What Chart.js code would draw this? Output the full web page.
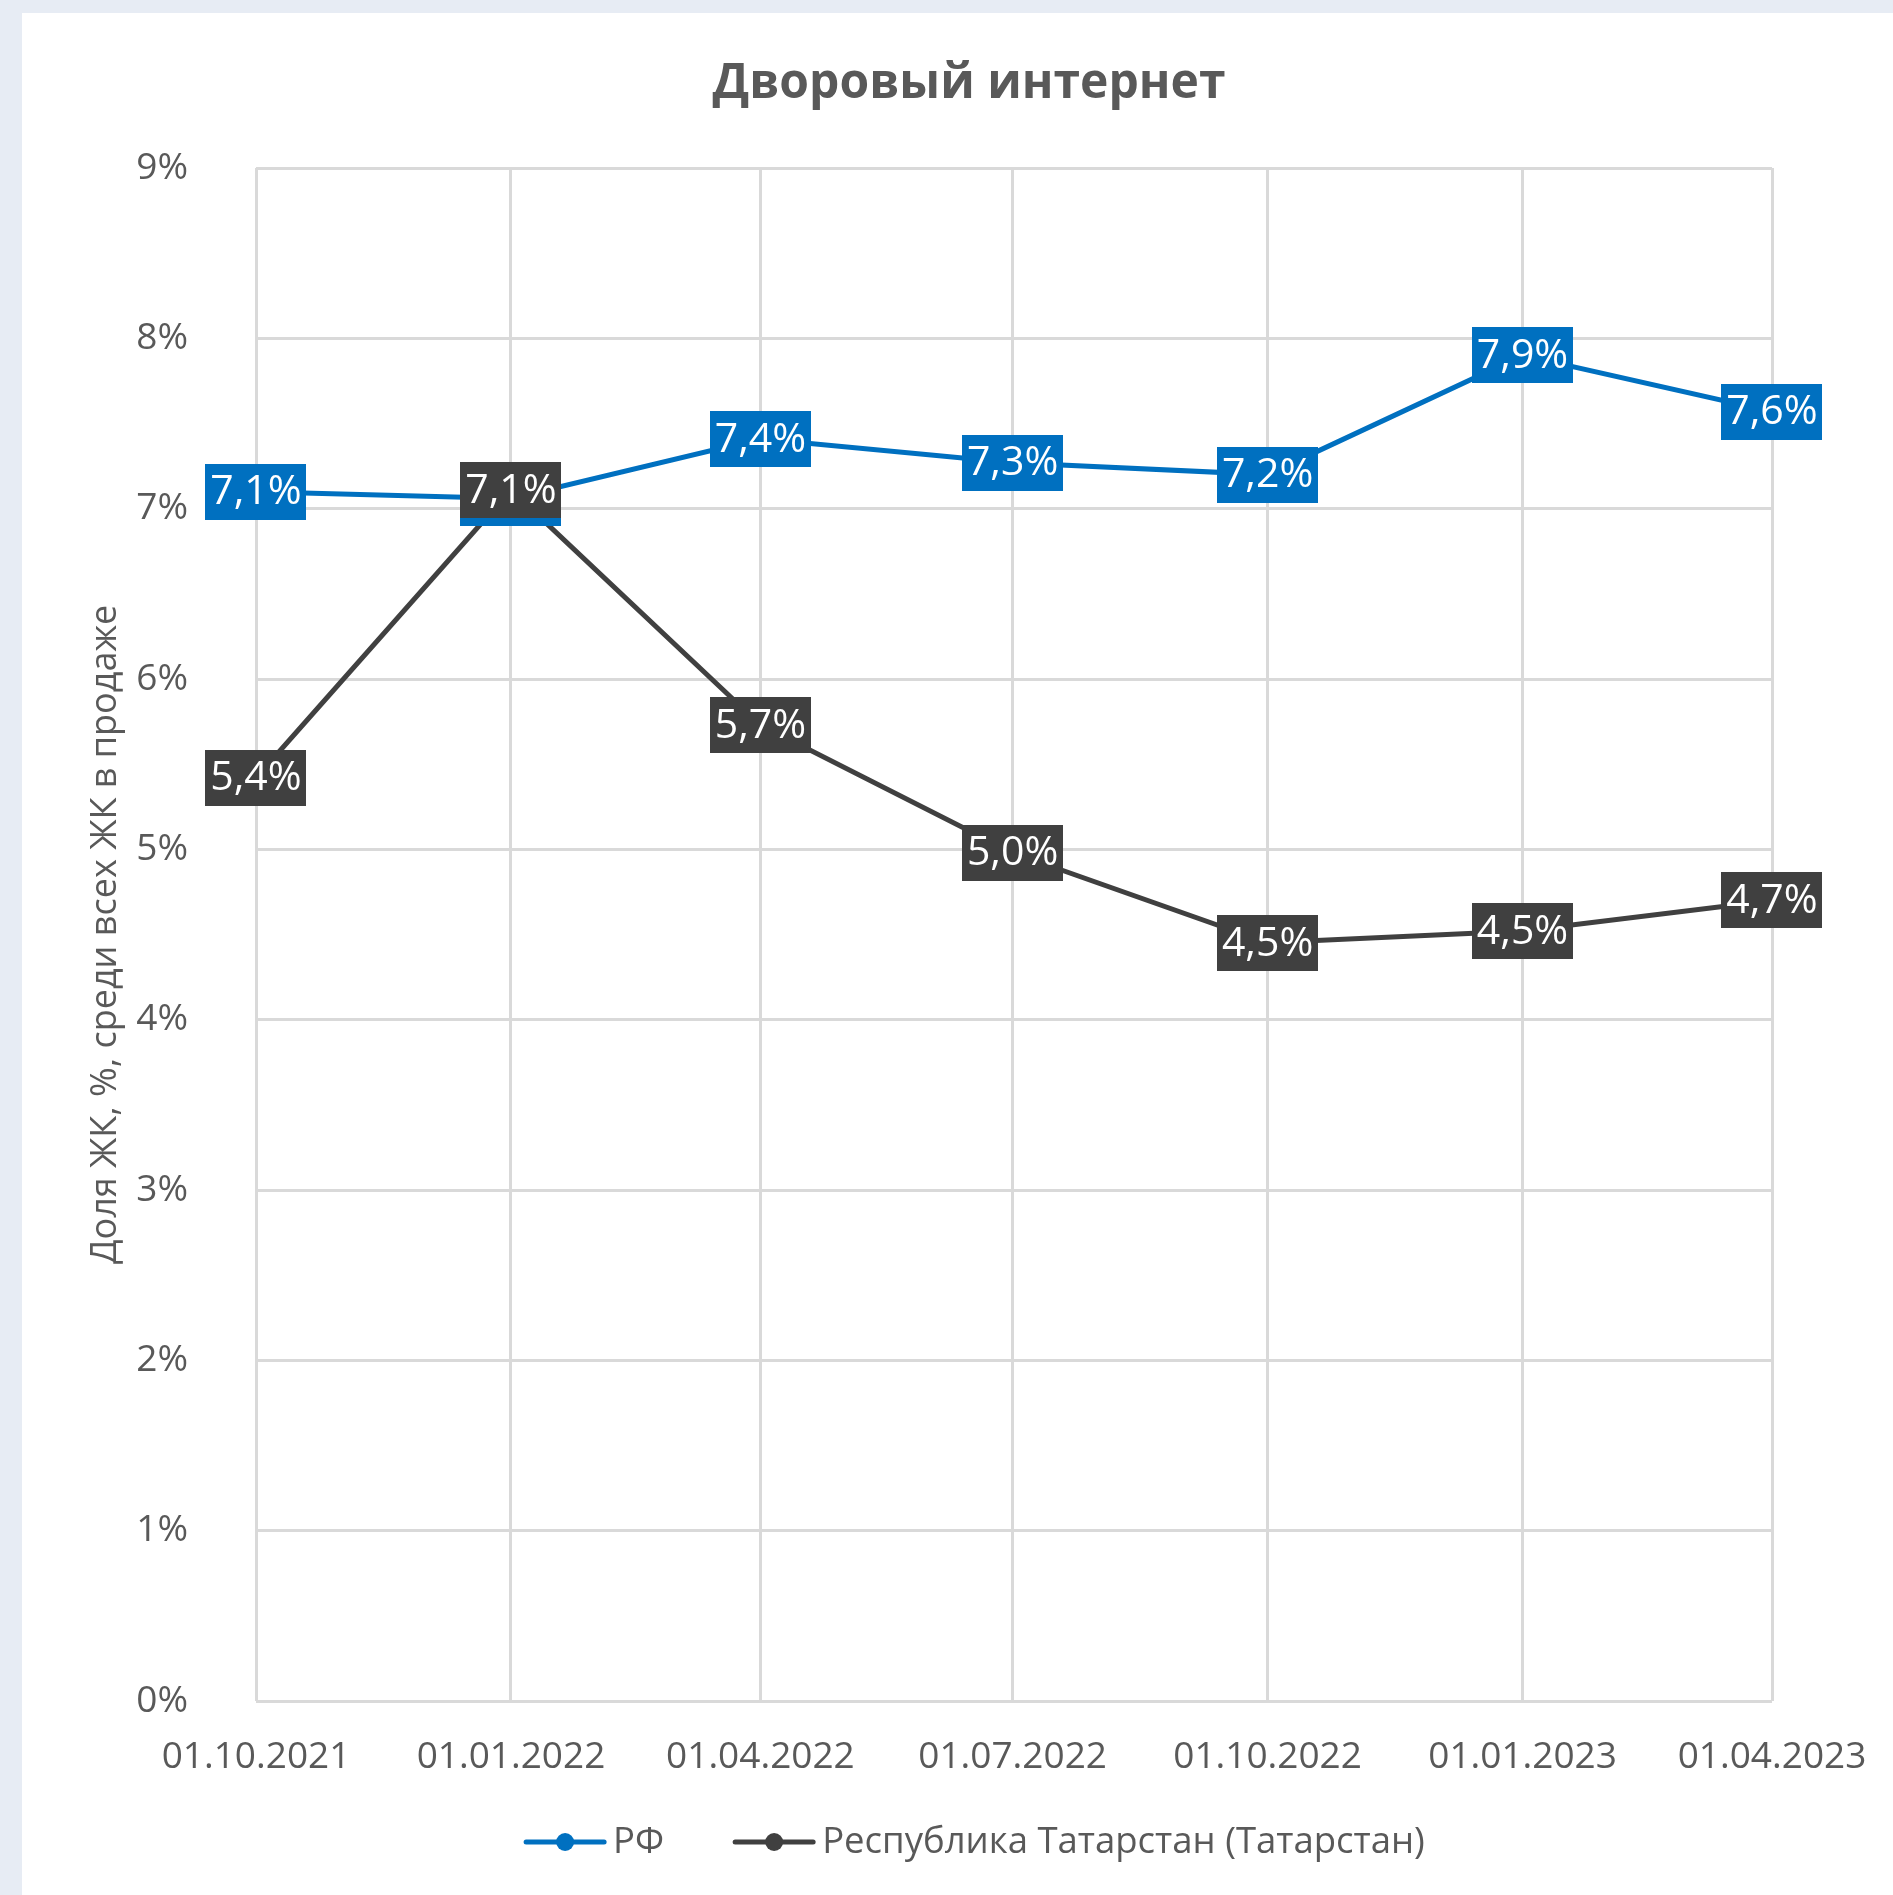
<!DOCTYPE html>
<html><head><meta charset="utf-8">
<script src="https://cdn.jsdelivr.net/npm/chart.js@4/dist/chart.umd.min.js"></script>
<style>
html,body{margin:0;padding:0;background:#e7ecf4;width:1893px;height:1895px;overflow:hidden}
#wrap{position:absolute;left:22px;top:13px;width:1871px;height:1882px;background:#fff}
canvas{display:block}
</style></head><body><div id="wrap"><canvas id="c" width="1871" height="1882"></canvas></div>
<script>
const dateLabels = ['01.10.2021','01.01.2022','01.04.2022','01.07.2022','01.10.2022','01.01.2023','01.04.2023'];
const rfValues = [7.10, 7.06, 7.41, 7.27, 7.20, 7.90, 7.57];
const tatValues = [5.42, 7.11, 5.73, 4.98, 4.451, 4.52, 4.70];
const yTickValues = [0,1,2,3,4,5,6,7,8,9];
const seriesNames = ['РФ', 'Республика Татарстан (Татарстан)'];
const seriesColors = ['#0070c0', '#404040'];
const chartTitle = 'Дворовый интернет';
const yAxisTitle = 'Доля ЖК, %, среди всех ЖК в продаже';

const FONT = "'Open Sans', 'DejaVu Sans', sans-serif";
const TXT = '#595959';

function toDay(s){ const [d,m,y] = s.split('.').map(Number); return Date.UTC(y, m-1, d) / 86400000; }
const xDays = dateLabels.map(toDay);
const fmt = v => v.toFixed(1).replace('.', ',') + '%';

const titlePlugin = {
  id: 'titleP',
  afterDraw(chart){
    const ctx = chart.ctx;
    ctx.save();
    ctx.font = 'bold 48px ' + FONT;
    ctx.fillStyle = TXT;
    ctx.textAlign = 'center';
    ctx.textBaseline = 'middle';
    ctx.fillText(chartTitle, 947, 71);
    ctx.restore();
  }
};

const labelPlugin = {
  id: 'labelsP',
  afterDatasetsDraw(chart){
    const ctx = chart.ctx;
    ctx.save();
    ctx.font = '41px ' + FONT;
    ctx.textAlign = 'center';
    ctx.textBaseline = 'middle';
    chart.data.datasets.forEach((ds, i) => {
      const meta = chart.getDatasetMeta(i);
      meta.data.forEach((pt, j) => {
        const t = fmt(ds.data[j].y);
        const w = ctx.measureText(t).width + 10;
        const h = 56;
        ctx.fillStyle = seriesColors[i];
        ctx.fillRect(Math.round(pt.x - w/2), Math.round(pt.y - h/2), Math.round(w), h);
        ctx.fillStyle = '#ffffff';
        ctx.fillText(t, pt.x, pt.y + 1);
      });
    });
    ctx.restore();
  }
};

const legendPlugin = {
  id: 'legendP',
  afterDraw(chart){
    const ctx = chart.ctx;
    ctx.save();
    ctx.font = '36.5px ' + FONT;
    const markW = 84, gapText = 6, gapItem = 68;
    const widths = seriesNames.map(n => markW + gapText + ctx.measureText(n).width);
    const total = widths.reduce((a,b)=>a+b,0) + gapItem*(seriesNames.length-1);
    let x = 952 - total/2;
    const y = 1829;
    seriesNames.forEach((n, i) => {
      ctx.strokeStyle = seriesColors[i];
      ctx.lineWidth = 5;
      ctx.lineCap = 'round';
      ctx.beginPath(); ctx.moveTo(x + 3, y); ctx.lineTo(x + markW - 3, y); ctx.stroke();
      ctx.fillStyle = seriesColors[i];
      ctx.beginPath(); ctx.arc(x + markW/2, y, 9, 0, Math.PI*2); ctx.fill();
      ctx.fillStyle = TXT;
      ctx.textAlign = 'left';
      ctx.textBaseline = 'middle';
      ctx.fillText(n, x + markW + gapText, y + 1);
      x += widths[i] + gapItem;
    });
    ctx.restore();
  }
};

const mk = vals => vals.map((v, i) => ({x: xDays[i], y: v}));

new Chart(document.getElementById('c'), {
  type: 'line',
  data: {
    datasets: [
      { label: seriesNames[0], data: mk(rfValues), borderColor: seriesColors[0], backgroundColor: seriesColors[0],
        borderWidth: 5, pointRadius: 0, tension: 0, order: 2 },
      { label: seriesNames[1], data: mk(tatValues), borderColor: seriesColors[1], backgroundColor: seriesColors[1],
        borderWidth: 5, pointRadius: 0, tension: 0, order: 1 }
    ]
  },
  options: {
    responsive: false,
    devicePixelRatio: 1,
    animation: false,
    events: [],
    layout: { padding: { left: 0, right: 121, top: 155, bottom: 99 } },
    plugins: { legend: { display: false }, title: { display: false }, tooltip: { enabled: false } },
    scales: {
      x: {
        type: 'linear',
        min: xDays[0], max: xDays[xDays.length-1],
        afterBuildTicks(s){ s.ticks = xDays.map(v => ({value: v})); },
        afterFit(s){ s.height = 95; s.paddingLeft = 0; s.paddingRight = 0; },
        ticks: {
          autoSkip: false, maxRotation: 0, padding: 34,
          color: TXT, font: { family: FONT, size: 37 },
          callback(v){ const i = xDays.indexOf(v); return i >= 0 ? dateLabels[i] : ''; }
        },
        grid: { color: '#d9d9d9', lineWidth: 3, drawTicks: false },
        border: { display: false }
      },
      y: {
        min: 0, max: 9,
        afterBuildTicks(s){ s.ticks = yTickValues.map(v => ({value: v})); },
        afterFit(s){ s.width = 234; },
        ticks: {
          padding: 68, color: TXT, font: { family: FONT, size: 37 },
          callback(v){ return v + '%'; }
        },
        grid: { color: '#d9d9d9', lineWidth: 3, drawTicks: false },
        border: { display: false },
        title: { display: true, text: yAxisTitle, color: TXT, font: { family: FONT, size: 36 }, padding: { top: 62, bottom: 0 } }
      }
    }
  },
  plugins: [titlePlugin, labelPlugin, legendPlugin]
});
</script>
</body></html>
